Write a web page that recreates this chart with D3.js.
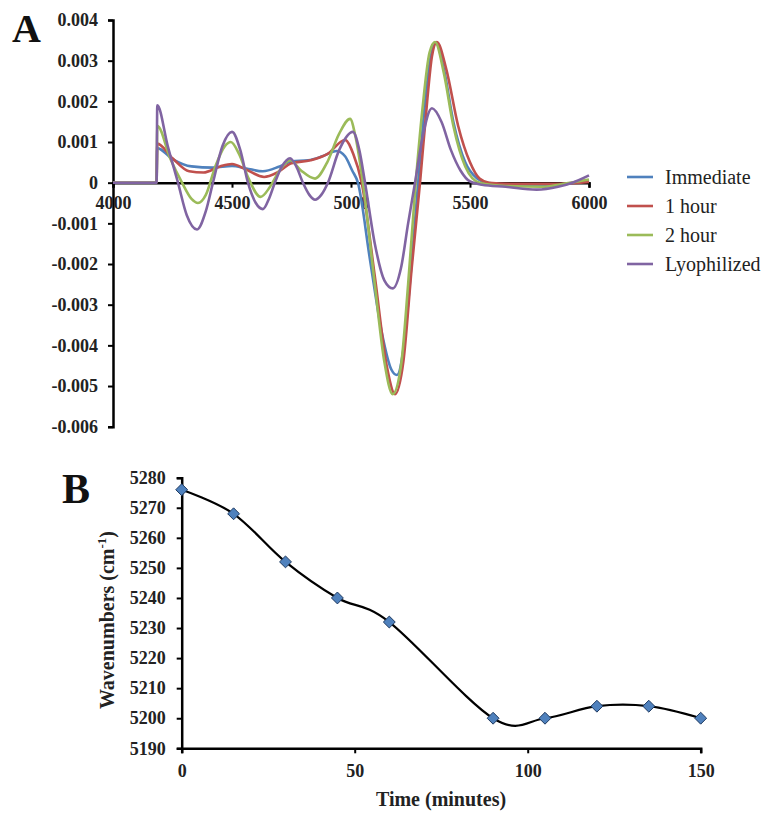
<!DOCTYPE html>
<html>
<head>
<meta charset="utf-8">
<script src="https://cdn.jsdelivr.net/npm/d3@7"></script>
<style>
  html, body { margin: 0; padding: 0; background: #fff; }
  svg { display: block; }
  svg text { font-family: 'Liberation Serif', 'Times New Roman', 'DejaVu Serif', serif !important; }
</style>
</head>
<body>
<svg id="chart" width="770" height="813"></svg>
<script>
// ---------- Panel A data: 2nd-derivative NIR spectra ----------
const seriesNames = ["Immediate", "1 hour", "2 hour", "Lyophilized"];
const seriesColors = ["#4F81BD", "#C0504D", "#9BBB59", "#8064A2"];

const waveImmediate = [4000, 4183, 4186, 4250, 4330, 4420, 4500, 4560, 4630, 4700, 4750, 4820, 4880, 4940, 4975, 5005, 5029, 5080, 5130, 5170, 5193, 5220, 5250, 5282, 5310, 5335, 5357, 5390, 5430, 5480, 5530, 5570, 5700, 5850, 6000];
const valImmediate  = [0, 0, 0.00085, 0.00058, 0.0004, 0.00037, 0.00041, 0.00035, 0.00028, 0.0004, 0.00052, 0.00055, 0.00065, 0.00078, 0.00065, 0.0003, 0, -0.0019, -0.0037, -0.0046, -0.00473, -0.0041, -0.0023, 0, 0.0019, 0.0031, 0.00343, 0.0028, 0.0015, 0.0005, 0.0001, 0, -0.00005, -0.00005, 0.00005];

const wave1h = [4000, 4183, 4186, 4250, 4320, 4380, 4450, 4500, 4560, 4635, 4690, 4750, 4830, 4900, 4975, 5010, 5045, 5100, 5150, 5185, 5220, 5255, 5290, 5320, 5340, 5361, 5400, 5450, 5500, 5540, 5580, 5700, 5850, 6000];
const val1h  = [0, 0, 0.00096, 0.0006, 0.00028, 0.00025, 0.0004, 0.00046, 0.00032, 0.00014, 0.00025, 0.00048, 0.00055, 0.0007, 0.00105, 0.0007, 0, -0.0023, -0.0045, -0.0052, -0.0044, -0.0021, 0, 0.002, 0.0031, 0.00346, 0.0028, 0.0014, 0.0005, 0.0001, 0, -0.00003, -0.00003, 0.00002];

const wave2h = [4000, 4183, 4186, 4240, 4290, 4330, 4357, 4390, 4430, 4470, 4495, 4530, 4570, 4620, 4660, 4700, 4745, 4790, 4849, 4900, 4950, 4996, 5020, 5050, 5100, 5140, 5175, 5210, 5240, 5272, 5300, 5330, 5353, 5390, 5430, 5480, 5540, 5650, 5800, 5920, 6000];
const val2h  = [0, 0, 0.0014, 0.0006, 0, -0.0004, -0.0005, -0.0003, 0.0004, 0.0009, 0.001, 0.0007, 0.0001, -0.00035, -0.0001, 0.0003, 0.00055, 0.0003, 0.0001, 0.0005, 0.0012, 0.00157, 0.0011, 0, -0.0025, -0.0044, -0.0052, -0.0045, -0.0025, 0, 0.0018, 0.0032, 0.00346, 0.0027, 0.0014, 0.0004, 0, -0.00008, -0.0001, 0, 0.00008];

const waveLyo = [4000, 4183, 4186, 4230, 4273, 4310, 4353, 4390, 4420, 4460, 4500, 4535, 4567, 4600, 4630, 4655, 4680, 4710, 4744, 4770, 4798, 4825, 4849, 4875, 4903, 4950, 5008, 5035, 5059, 5100, 5140, 5176, 5210, 5240, 5269, 5300, 5340, 5380, 5420, 5460, 5500, 5550, 5650, 5780, 5870, 5930, 6000];
const valLyo  = [0, 0, 0.0019, 0.0009, 0, -0.0008, -0.00115, -0.0007, 0, 0.0009, 0.00125, 0.0008, 0, -0.0005, -0.00065, -0.0004, 0, 0.0004, 0.0006, 0.0004, 0, -0.0003, -0.00042, -0.0003, 0, 0.0008, 0.00125, 0.0008, 0, -0.0015, -0.0024, -0.0026, -0.0021, -0.001, 0, 0.0011, 0.00183, 0.0015, 0.0008, 0.0003, 0.00003, -0.00005, -0.0001, -0.00017, -0.0001, 0, 0.00018];

const specXTicks = [4000, 4500, 5000, 5500, 6000];
const specYTicks = [0.004, 0.003, 0.002, 0.001, 0, -0.001, -0.002, -0.003, -0.004, -0.005, -0.006];

// ---------- Panel B data: peak position vs time ----------
const timeMinutes = [0, 15, 30, 45, 60, 90, 105, 120, 135, 150];
const peakWavenumber = [5276, 5268, 5252, 5240, 5232, 5200, 5200, 5204, 5204, 5200];
const timeTicks = [0, 50, 100, 150];
const wnTicks = [5190, 5200, 5210, 5220, 5230, 5240, 5250, 5260, 5270, 5280];

const SERIF = "'Liberation Serif', 'Times New Roman', serif";
const svg = d3.select("#chart");

function styleAxis(g) {
  g.attr("font-family", SERIF);
  g.select(".domain").attr("stroke", "#000").attr("stroke-width", 2.5);
  g.selectAll(".tick line").attr("stroke", "#000").attr("stroke-width", 2);
  g.selectAll(".tick text")
    .style("font-family", SERIF)
    .attr("font-weight", "bold").attr("font-size", 18).attr("fill", "#222");
}

// ================= Panel A =================
const xA = d3.scaleLinear().domain([4000, 6000]).range([113, 589]);
const yA = d3.scaleLinear().domain([-0.006, 0.004]).range([426.7, 20]);

const specSeries = [
  { name: seriesNames[0], color: seriesColors[0], w: waveImmediate, v: valImmediate },
  { name: seriesNames[1], color: seriesColors[1], w: wave1h, v: val1h },
  { name: seriesNames[2], color: seriesColors[2], w: wave2h, v: val2h },
  { name: seriesNames[3], color: seriesColors[3], w: waveLyo, v: valLyo }
];

const lineA = d3.line()
  .x(d => xA(d[0]))
  .y(d => yA(d[1]))
  .curve(d3.curveMonotoneX);

const gA = svg.append("g");

gA.append("g")
  .attr("transform", `translate(${xA(4000)},0)`)
  .call(d3.axisLeft(yA).tickValues(specYTicks).tickSize(5).tickPadding(10)
    .tickFormat(d => d === 0 ? "0" : d.toFixed(3)))
  .call(styleAxis);

gA.append("g")
  .attr("transform", `translate(0,${yA(0)})`)
  .call(d3.axisBottom(xA).tickValues(specXTicks).tickSize(5).tickPadding(9)
    .tickFormat(d3.format("d")))
  .call(styleAxis);

gA.append("g").selectAll("path")
  .data(specSeries)
  .join("path")
  .attr("d", s => lineA(s.w.map((w, i) => [w, s.v[i]])))
  .attr("fill", "none")
  .attr("stroke", s => s.color)
  .attr("stroke-width", 2.6)
  .attr("stroke-linejoin", "round");

// Legend
const legRows = gA.append("g").selectAll("g").data(specSeries).join("g")
  .attr("transform", (d, i) => `translate(627,${177 + i * 29})`);
legRows.append("line")
  .attr("x1", 0).attr("x2", 26).attr("y1", 0).attr("y2", 0)
  .attr("stroke", d => d.color).attr("stroke-width", 2.6);
legRows.append("text")
  .attr("x", 38).attr("y", 7)
  .style("font-family", SERIF)
  .attr("font-size", 20).attr("fill", "#222")
  .text(d => d.name);

svg.append("text").attr("x", 12).attr("y", 42)
  .style("font-family", SERIF)
  .attr("font-size", 40).attr("font-weight", "bold").attr("fill", "#111")
  .text("A");

// ================= Panel B =================
const xB = d3.scaleLinear().domain([0, 150]).range([181.7, 700.7]);
const yB = d3.scaleLinear().domain([5190, 5280]).range([748.3, 477.7]);

const gB = svg.append("g");

gB.append("g")
  .attr("transform", `translate(${xB(0)},0)`)
  .call(d3.axisLeft(yB).tickValues(wnTicks).tickSize(5).tickPadding(11).tickFormat(d3.format("d")))
  .call(styleAxis);

gB.append("g")
  .attr("transform", `translate(0,${yB(5190)})`)
  .call(d3.axisBottom(xB).tickValues(timeTicks).tickSize(5).tickPadding(11).tickFormat(d3.format("d")))
  .call(styleAxis);

const ptsB = timeMinutes.map((t, i) => [t, peakWavenumber[i]]);
const lineB = d3.line()
  .x(d => xB(d[0]))
  .y(d => yB(d[1]))
  .curve(d3.curveCardinal.tension(0));

gB.append("path")
  .attr("d", lineB(ptsB))
  .attr("fill", "none")
  .attr("stroke", "#000")
  .attr("stroke-width", 2.2);

const diamond = d3.symbol().type(d3.symbolDiamond2).size(90);
gB.append("g").selectAll("path")
  .data(ptsB)
  .join("path")
  .attr("transform", d => `translate(${xB(d[0])},${yB(d[1])})`)
  .attr("d", diamond)
  .attr("fill", "#4F81BD")
  .attr("stroke", "#1F3A60")
  .attr("stroke-width", 1);

const yTitle = svg.append("text")
  .attr("transform", `translate(114,620) rotate(-90)`)
  .attr("text-anchor", "middle")
  .style("font-family", SERIF)
  .attr("font-size", 20).attr("font-weight", "bold").attr("fill", "#222");
yTitle.append("tspan").text("Wavenumbers (cm");
yTitle.append("tspan").attr("font-size", 13).attr("dy", -8).text("-1");
yTitle.append("tspan").attr("dy", 8).text(")");

svg.append("text")
  .attr("x", 441).attr("y", 806)
  .attr("text-anchor", "middle")
  .style("font-family", SERIF)
  .attr("font-size", 20).attr("font-weight", "bold").attr("fill", "#222")
  .text("Time (minutes)");

svg.append("text").attr("x", 62).attr("y", 503)
  .style("font-family", SERIF)
  .attr("font-size", 42).attr("font-weight", "bold").attr("fill", "#111")
  .text("B");
</script>
</body>
</html>
